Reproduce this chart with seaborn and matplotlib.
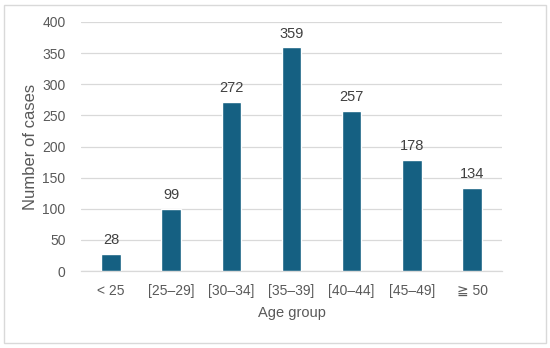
import matplotlib
matplotlib.use("Agg")
import matplotlib.pyplot as plt
import seaborn as sns
import pandas as pd
from matplotlib.patches import Rectangle

categories = ["< 25", "[25\u201329]", "[30\u201334]", "[35\u201339]", "[40\u201344]", "[45\u201349]", "\u2267 50"]
cases = [28, 99, 272, 359, 257, 178, 134]

df = pd.DataFrame({"Age group": categories, "Number of cases": cases})

sns.set_theme(style="white")
plt.rcParams["font.family"] = ["Liberation Sans", "DejaVu Sans"]

fig = plt.figure(figsize=(5.5, 3.48), dpi=100)
ax = fig.add_axes([0.147, 0.221, 0.766, 0.716])

sns.barplot(data=df, x="Age group", y="Number of cases", color="#156082",
            width=0.32, saturation=1, ax=ax, zorder=3)

ax.set_ylim(0, 400)
ax.set_yticks(range(0, 401, 50))
ax.yaxis.grid(True, color="#D9D9D9", linewidth=0.9, zorder=0)
ax.set_axisbelow(True)
for s in ["top", "right", "left"]:
    ax.spines[s].set_visible(False)
ax.spines["bottom"].set_color("#D9D9D9")
ax.spines["bottom"].set_linewidth(0.9)
ax.tick_params(axis="y", length=0, labelsize=10, labelcolor="#595959", pad=11)
ax.tick_params(axis="x", length=0, labelsize=10, labelcolor="#595959", pad=9)
ax.set_xlabel("Age group", fontsize=10.5, color="#595959", labelpad=6)
ax.set_ylabel("Number of cases", fontsize=12, color="#595959", labelpad=3)

for c in ax.containers:
    ax.bar_label(c, labels=[str(v) for v in cases], padding=5, fontsize=10.5, color="#404040")

fig.patches.append(Rectangle((0.008, 0.015), 0.984, 0.97, transform=fig.transFigure,
                             fill=False, edgecolor="#D9D9D9", linewidth=1))

fig.savefig("out.png", dpi=100)
